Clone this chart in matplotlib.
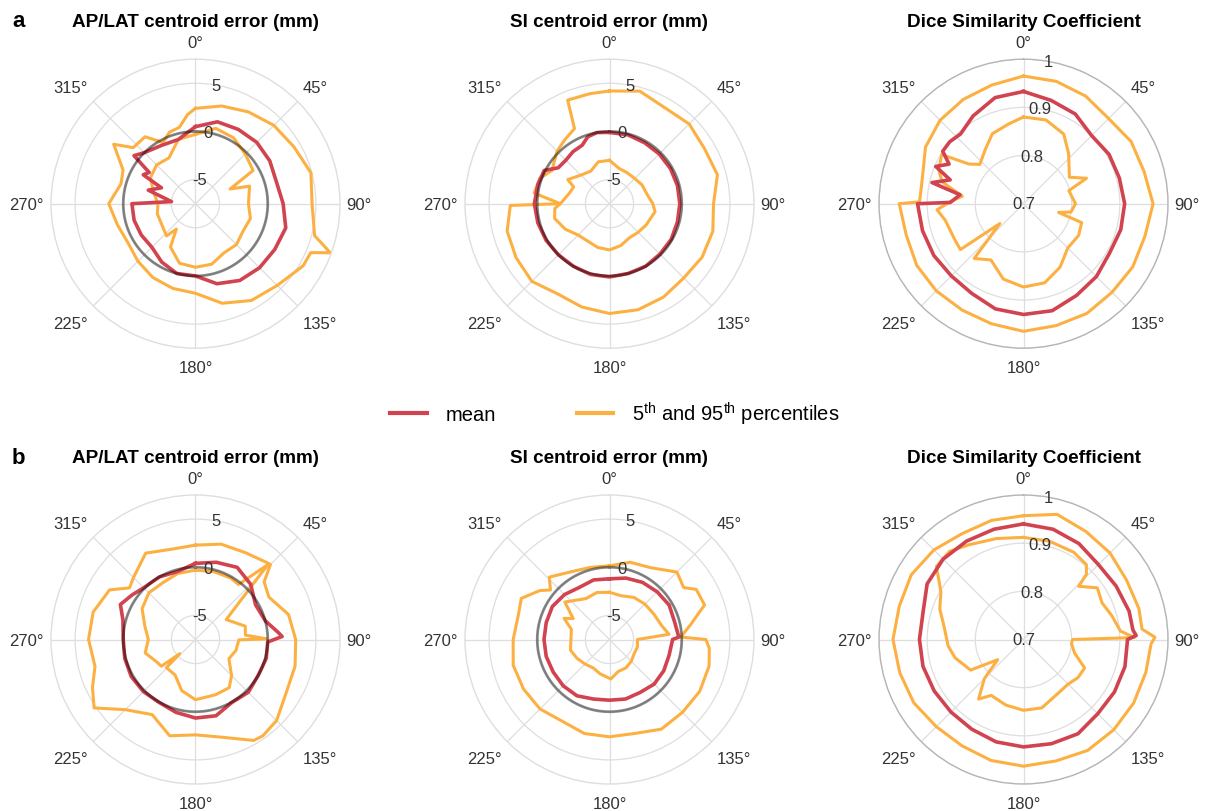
"""
Polar error plots: AP/LAT and SI centroid error, Dice coefficient per gantry angle
Two rows (a, b), mean line plus 5th/95th percentile lines
"""

import numpy as np
import matplotlib
matplotlib.use('Agg')
import matplotlib.pyplot as plt
from matplotlib.lines import Line2D

plt.rcParams['font.family'] = ['Liberation Sans', 'DejaVu Sans']
plt.rcParams['mathtext.fontset'] = 'custom'
plt.rcParams['mathtext.rm'] = 'Liberation Sans'

# Colours
RED = '#D1434F'
ORANGE = '#FDB042'
GRID = '#DEDEDE'
TICK_TXT = '#333333'

# ---- data (angle in degrees, value) ----
# row a, AP/LAT centroid error (mm)
A1_MEAN_DEG = [0, 15, 30, 45, 60, 75, 90, 105, 120, 135, 150, 165, 180, 195, 210, 225, 240, 255,
               270, 275, 286, 295, 299, 304, 308, 315, 330, 345]
A1_MEAN = [0.5, 1.3, 1.4, 1.5, 1.4, 1.2, 1.6, 2.2, 2.0, 1.9, 1.7, 1.1, 0.0, 0.0, -0.5, -1.1, -1.0, -0.9,
           -0.9, -5.0, -2.4, -3.6, -1.3, -1.7, 0.6, 0.0, -0.5, -0.6]
A1_P95_DEG = [0, 15, 30, 45, 60, 75, 90, 105, 110, 113, 120, 135, 150, 165, 180, 195, 210, 225, 240,
              255, 270, 285, 295, 306, 312, 323, 332, 340, 348, 355]
A1_P95 = [2.4, 3.0, 3.5, 4.0, 4.3, 4.9, 4.6, 5.3, 7.4, 5.5, 5.4, 4.5, 4.1, 3.2, 1.8, 1.6, 1.35, 0.95, 0.6,
          0.9, 1.5, 0.5, 0.8, 3.0, 1.2, 1.2, -0.3, 0.4, 0.6, 1.8]
A1_P5_DEG = [0, 15, 30, 45, 60, 67, 72, 90, 105, 120, 135, 150, 165, 180, 195, 210, 217, 222, 240,
             255, 270, 285, 300, 315, 330, 345]
A1_P5 = [-0.3, 0.6, 0.4, -0.2, -0.6, -3.6, -1.6, -2.0, -1.6, -1.8, -1.5, -1.6, -1.0, -0.9, -1.1, -2.3,
         -4.2, -3.0, -3.4, -3.4, -3.6, -3.0, -2.1, -1.8, -2.0, -0.6]

# row a, SI centroid error (mm)
A2_MEAN_DEG = [0, 15, 30, 45, 60, 75, 90, 105, 120, 135, 150, 165, 180, 195, 210, 225, 240, 255,
               270, 285, 297, 305, 315, 325, 335, 342, 350]
A2_MEAN = [-0.1, -0.1, -0.2, -0.2, -0.2, -0.2, -0.2, -0.2, -0.1, -0.1, 0.0, 0.0, 0.1, 0.1, 0.0, 0.0,
           0.1, 0.2, 0.3, 0.2, 0.1, -1.0, -1.1, -0.9, -0.8, -0.2, 0.0]
A2_P95_DEG = [0, 15, 30, 45, 60, 75, 90, 105, 120, 135, 150, 165, 180, 195, 210, 225, 240, 255,
              269, 270, 278, 290, 300, 315, 325, 335, 338, 350]
A2_P95 = [4.2, 4.6, 4.0, 4.2, 3.9, 4.1, 3.3, 3.6, 3.6, 3.4, 3.7, 3.9, 3.9, 3.6, 3.3, 3.9, 3.7, 3.5,
          2.8, -2.4, 0.4, 0.2, -0.6, 0.2, 0.6, 1.1, 4.1, 4.1]
A2_P5_DEG = [0, 15, 30, 45, 60, 75, 90, 100, 120, 135, 150, 165, 180, 195, 210, 225, 240, 255,
             265, 270, 285, 295, 300, 315, 330, 345]
A2_P5 = [-3.0, -3.7, -3.8, -3.8, -3.6, -3.5, -3.0, -2.7, -3.1, -3.3, -3.4, -3.0, -2.7, -2.8, -3.0,
         -2.9, -2.2, -1.6, -1.8, -2.4, -3.2, -3.4, -2.5, -3.3, -3.6, -3.0]

# row a, Dice similarity coefficient
A3_MEAN_DEG = [0, 15, 30, 45, 60, 75, 90, 105, 120, 135, 150, 165, 180, 195, 210, 225, 240, 255,
               270, 271, 278, 283, 288, 293, 298, 303, 310, 318, 330, 345]
A3_MEAN = [0.933, 0.922, 0.915, 0.900, 0.905, 0.906, 0.910, 0.909, 0.906, 0.914, 0.920, 0.930, 0.930,
           0.926, 0.915, 0.912, 0.915, 0.917, 0.920, 0.852, 0.833, 0.895, 0.860, 0.898, 0.875, 0.900,
           0.900, 0.895, 0.910, 0.928]
A3_P95_DEG = [0, 15, 30, 45, 60, 75, 90, 105, 120, 135, 150, 165, 180, 195, 210, 225, 240, 255,
              270, 271, 280, 290, 300, 315, 330, 345]
A3_P95 = [0.965, 0.963, 0.958, 0.950, 0.958, 0.959, 0.969, 0.961, 0.962, 0.960, 0.963, 0.962, 0.965,
          0.958, 0.955, 0.956, 0.956, 0.952, 0.958, 0.916, 0.915, 0.921, 0.935, 0.945, 0.950, 0.955]
A3_P5_DEG = [0, 15, 30, 42, 60, 68, 74, 90, 100, 104, 108, 120, 135, 150, 165, 180, 195, 210, 222,
             230, 234, 242, 258, 266, 272, 277, 285, 292, 301, 306, 312, 325, 336, 349]
A3_P5 = [0.880, 0.880, 0.867, 0.840, 0.810, 0.841, 0.798, 0.808, 0.800, 0.775, 0.827, 0.832, 0.830,
         0.852, 0.870, 0.873, 0.862, 0.835, 0.853, 0.764, 0.862, 0.861, 0.866, 0.880, 0.850, 0.828,
         0.875, 0.890, 0.898, 0.840, 0.822, 0.838, 0.859, 0.868]

# row b, AP/LAT centroid error (mm)
B1_MEAN_DEG = [0, 15, 30, 45, 60, 75, 85, 88, 92, 105, 120, 135, 150, 165, 180, 195, 210, 225, 240,
               255, 270, 285, 295, 305, 315, 330, 345]
B1_MEAN = [0.4, 0.8, 1.15, 0.6, -0.3, 0.0, 1.1, 1.5, 0.0, 0.1, 0.0, 0.25, 0.05, 0.7, 0.65, 0.33, 0.05,
           0.15, 0.2, 0.1, 0.0, 0.3, 1.1, 0.55, 0.1, 0.0, -0.2]
B1_P95_DEG = [0, 15, 30, 43, 45, 50, 60, 75, 90, 105, 120, 135, 145, 150, 165, 180, 195, 210, 225,
              236, 245, 255, 270, 285, 300, 308, 315, 330, 345]
B1_P95 = [2.3, 2.75, 2.9, 3.4, 3.5, 1.8, 1.3, 2.5, 2.9, 3.2, 3.4, 4.4, 4.7, 4.6, 3.0, 2.4, 2.85, 1.5,
          2.8, 5.2, 4.3, 3.3, 3.6, 3.5, 2.8, 1.2, 1.6, 2.85, 2.2]
B1_P5_DEG = [0, 15, 30, 38, 44, 57, 75, 85, 89.5, 90.5, 105, 120, 135, 145, 160, 180, 195, 210, 226,
             228, 232, 240, 255, 270, 285, 300, 315, 330, 345]
B1_P5 = [-0.3, -0.2, -0.15, -0.25, 3.3, -3.7, -2.15, -2.3, -0.1, -3.0, -3.15, -3.5, -2.2, -1.4, -1.4,
         -1.25, -2.0, -3.25, -3.3, -5.3, -3.0, -2.85, -2.1, -2.6, -2.05, -1.1, -0.65, -0.7, -0.4]

# row b, SI centroid error (mm)
B2_MEAN_DEG = [0, 15, 30, 45, 60, 75, 88, 90, 105, 120, 135, 150, 165, 180, 195, 210, 225, 240, 255,
               270, 285, 300, 315, 330, 345]
B2_MEAN = [-1.2, -0.9, -0.65, -0.5, -0.35, -0.5, -0.3, -0.95, -1.1, -1.0, -0.95, -1.15, -1.1, -1.2,
           -1.1, -0.75, -0.7, -0.75, -0.7, -0.7, -0.7, -0.65, -0.9, -1.25, -1.1]
B2_P95_DEG = [0, 15, 30, 45, 55, 60, 70, 80, 88, 90, 95, 105, 120, 135, 150, 165, 180, 195, 210, 225,
              240, 255, 270, 285, 295, 305, 310, 316, 330, 345]
B2_P95 = [0.15, 0.8, 1.1, 2.4, 1.9, 2.9, 3.0, 1.0, -0.1, 2.5, 2.9, 3.2, 3.3, 3.2, 3.25, 2.6, 2.6, 2.6,
          2.3, 2.7, 2.8, 2.85, 2.5, 2.3, 2.6, 1.35, 0.5, 1.5, 0.6, 0.25]
B2_P5_DEG = [0, 15, 30, 45, 60, 75, 85, 90, 105, 120, 135, 150, 165, 178, 195, 210, 225, 240, 255,
             270, 285, 295, 300, 310, 315, 330, 345]
B2_P5 = [-2.6, -2.8, -2.45, -2.3, -2.2, -1.9, -1.3, -4.6, -4.5, -4.55, -4.3, -4.1, -4.05, -3.4, -3.8,
         -4.1, -3.9, -3.6, -3.3, -3.5, -3.4, -2.3, -3.15, -1.45, -1.85, -2.6, -2.45]

# row b, Dice similarity coefficient
B3_MEAN_DEG = [0, 15, 30, 45, 60, 75, 85, 88, 90, 105, 120, 135, 150, 165, 180, 195, 210, 225, 240,
               255, 270, 285, 300, 315, 330, 345]
B3_MEAN = [0.940, 0.937, 0.930, 0.920, 0.922, 0.927, 0.928, 0.934, 0.916, 0.918, 0.918, 0.918, 0.926,
           0.924, 0.923, 0.920, 0.915, 0.913, 0.914, 0.916, 0.916, 0.916, 0.931, 0.936, 0.936, 0.937]
B3_P95_DEG = [0, 15, 30, 45, 60, 75, 85, 89, 92, 105, 120, 135, 150, 165, 180, 195, 210, 225, 240,
              255, 270, 285, 300, 315, 330, 345]
B3_P95 = [0.957, 0.969, 0.959, 0.954, 0.947, 0.948, 0.947, 0.973, 0.965, 0.963, 0.964, 0.965, 0.966,
          0.961, 0.963, 0.960, 0.955, 0.956, 0.963, 0.966, 0.971, 0.967, 0.969, 0.963, 0.954, 0.956]
B3_P5_DEG = [0, 15, 30, 40, 44, 46, 55, 65, 75, 85, 89, 90, 95, 105, 115, 125, 135, 150, 165, 180,
             195, 210, 217, 225, 232, 240, 255, 265, 280, 290, 300, 310, 320, 330, 345]
B3_P5 = [0.912, 0.911, 0.909, 0.903, 0.888, 0.859, 0.887, 0.880, 0.890, 0.902, 0.930, 0.802, 0.800,
         0.810, 0.840, 0.838, 0.831, 0.834, 0.847, 0.847, 0.841, 0.834, 0.855, 0.815, 0.768, 0.827,
         0.847, 0.857, 0.868, 0.885, 0.898, 0.936, 0.939, 0.927, 0.917]

TITLES = ['AP/LAT centroid error (mm)', 'SI centroid error (mm)', 'Dice Similarity Coefficient']
ERR_TICKS = [-5, 0, 5]
ERR_TICK_LABELS = ['-5', '0', '5']
DSC_TICKS = [0.7, 0.8, 0.9, 1.0]
DSC_TICK_LABELS = ['0.7', '0.8', '0.9', '1']
THETA_TICKS = [0, 45, 90, 135, 180, 225, 270, 315]

# theta label placement in axes fraction (x, y, ha)
THETA_POS = {0: (0.5, 1.058, 'center'), 45: (0.913, 0.902, 'center'), 90: (1.022, 0.497, 'left'),
             135: (0.931, 0.087, 'center'), 180: (0.5, -0.067, 'center'), 225: (0.066, 0.087, 'center'),
             270: (-0.024, 0.497, 'right'), 315: (0.066, 0.902, 'center')}

fig = plt.figure(figsize=(12.07, 8.12), dpi=100)
fig.patch.set_facecolor('white')

W, H = 1207.0, 812.0
RAD = 144.5
COL_X = [195.5, 609.5, 1023.5]
ROW_Y = [204.7, 640.5]


def make_axes(cx, cy):
    rect = [(cx - RAD) / W, 1 - (cy + RAD) / H, 2 * RAD / W, 2 * RAD / H]
    ax = fig.add_axes(rect, projection='polar')
    ax.set_theta_zero_location('N')
    ax.set_theta_direction(-1)
    return ax


def draw_panel(ax, curves, rlim, ticks, tick_labels, title, outline, ref_circle):
    for deg, val, color, lw, z in curves:
        th = np.deg2rad(list(deg) + [deg[0]])
        r = list(val) + [val[0]]
        ax.plot(th, r, color=color, lw=lw, zorder=z, solid_joinstyle='round')
    if ref_circle:
        th = np.linspace(0, 2 * np.pi, 361)
        ax.plot(th, np.zeros_like(th), color='black', alpha=0.45, lw=2.0, zorder=4)
    ax.set_ylim(*rlim)
    ax.set_yticks(ticks)
    ax.set_yticklabels([])
    ax.set_xticks(np.deg2rad(THETA_TICKS))
    ax.set_xticklabels([])
    ax.tick_params(length=0)
    ax.grid(True, color=GRID, lw=0.9)
    ax.spines['polar'].set_color(outline)
    ax.spines['polar'].set_linewidth(1.0)
    for t, lab in zip(ticks, tick_labels):
        ax.text(np.deg2rad(10), t, lab, ha='center', va='center', fontsize=12,
                color=TICK_TXT, zorder=6)
    for ang in THETA_TICKS:
        x, y, ha = THETA_POS[ang]
        ax.text(x, y, f'{ang}°', transform=ax.transAxes, ha=ha, va='center',
                fontsize=12, color=TICK_TXT)
    ax.text(0.5, 1.115, title, transform=ax.transAxes, ha='center', va='baseline',
            fontsize=13.6, fontweight='bold', color='black')


rows = [
    [(A1_MEAN_DEG, A1_MEAN, A1_P95_DEG, A1_P95, A1_P5_DEG, A1_P5),
     (A2_MEAN_DEG, A2_MEAN, A2_P95_DEG, A2_P95, A2_P5_DEG, A2_P5),
     (A3_MEAN_DEG, A3_MEAN, A3_P95_DEG, A3_P95, A3_P5_DEG, A3_P5)],
    [(B1_MEAN_DEG, B1_MEAN, B1_P95_DEG, B1_P95, B1_P5_DEG, B1_P5),
     (B2_MEAN_DEG, B2_MEAN, B2_P95_DEG, B2_P95, B2_P5_DEG, B2_P5),
     (B3_MEAN_DEG, B3_MEAN, B3_P95_DEG, B3_P95, B3_P5_DEG, B3_P5)],
]

for i, row in enumerate(rows):
    for j, (md, mv, hd, hv, ld, lv) in enumerate(row):
        ax = make_axes(COL_X[j], ROW_Y[i])
        curves = [(hd, hv, ORANGE, 2.2, 2), (ld, lv, ORANGE, 2.2, 2), (md, mv, RED, 2.6, 3)]
        if j < 2:
            draw_panel(ax, curves, (-7.5, 7.5), ERR_TICKS, ERR_TICK_LABELS, TITLES[j], GRID, True)
        else:
            draw_panel(ax, curves, (0.7, 1.0), DSC_TICKS, DSC_TICK_LABELS, TITLES[j], '#B5B5B5', False)

# panel letters
fig.text(12 / W, 1 - 27 / H, 'a', fontsize=16, fontweight='bold', ha='left', va='baseline')
fig.text(12 / W, 1 - 464 / H, 'b', fontsize=16, fontweight='bold', ha='left', va='baseline')

# shared legend
handles = [Line2D([], [], color=RED, lw=3), Line2D([], [], color=ORANGE, lw=3)]
labels = ['mean', r'5$^{\mathrm{th}}$ and 95$^{\mathrm{th}}$ percentiles']
fig.legend(handles, labels, loc='center', bbox_to_anchor=(615 / W, 1 - 414 / H), ncol=2,
           frameon=False, fontsize=14.5, handlelength=1.8, handletextpad=0.95, columnspacing=4.0)

fig.savefig('out.png', dpi=100, facecolor='white')
